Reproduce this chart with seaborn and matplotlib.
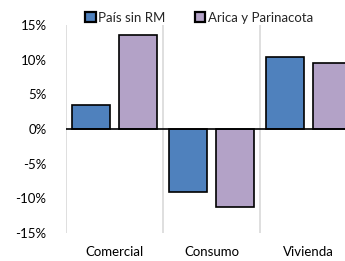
import pandas as pd
import matplotlib
matplotlib.use("Agg")
import matplotlib.pyplot as plt
import seaborn as sns
from matplotlib.ticker import FixedLocator, FuncFormatter

# Data (percent)
categories = ["Comercial", "Consumo", "Vivienda"]
series = ["País sin RM", "Arica y Parinacota"]
pais_sin_rm = [3.4, -9.1, 10.4]
arica = [13.5, -11.2, 9.5]
yticks = [-15, -10, -5, 0, 5, 10, 15]

df = pd.DataFrame({
    "categoria": categories * 2,
    "serie": [series[0]] * 3 + [series[1]] * 3,
    "valor": pais_sin_rm + arica,
})

sns.set_theme(style="white")
plt.rcParams["font.family"] = ["Lato", "DejaVu Sans"]

fig = plt.figure(figsize=(3.45, 2.61), dpi=100)
# axes run past the right edge, as in the cropped reference
ax = fig.add_axes([66 / 345, 1 - 233 / 261, (357 - 66) / 345, (233 - 25) / 261])

sns.barplot(data=df, x="categoria", y="valor", hue="serie",
            palette=["#4F81BD", "#B3A2C7"], saturation=1, width=0.98, gap=0.21,
            edgecolor="black", linewidth=1.2, ax=ax)

ax.set_xlim(-0.5, 2.5)
ax.set_ylim(-15, 15)
ax.set_yticks(yticks)
ax.yaxis.set_major_formatter(FuncFormatter(lambda v, p: f"{v:.0f}%"))
ax.tick_params(axis="y", labelsize=9.5, length=0, pad=14, colors="black")
ax.tick_params(axis="x", labelsize=9.5, length=0, pad=9, colors="black")
ax.set_xlabel("")
ax.set_ylabel("")

# vertical gridlines at category boundaries
ax.xaxis.set_minor_locator(FixedLocator([-0.5, 0.5, 1.5, 2.5]))
ax.grid(which="minor", axis="x", color="#D9D9D9", linewidth=1.2)
ax.grid(which="major", axis="both", visible=False)
ax.axhline(0, color="black", linewidth=1.2, zorder=3)
for s in ax.spines.values():
    s.set_visible(False)

handles, labels = ax.get_legend_handles_labels()
for h in handles:
    h.set_linewidth(1.6)
ax.legend(handles, labels, loc="lower left", bbox_to_anchor=(85 / 345, 1 - 24 / 261),
          bbox_transform=fig.transFigure, ncol=2, frameon=False, fontsize=9.5,
          handlelength=0.8, handleheight=0.8, handletextpad=0.2, columnspacing=2.2,
          borderaxespad=0, borderpad=0)

fig.savefig("out.png", dpi=100)
